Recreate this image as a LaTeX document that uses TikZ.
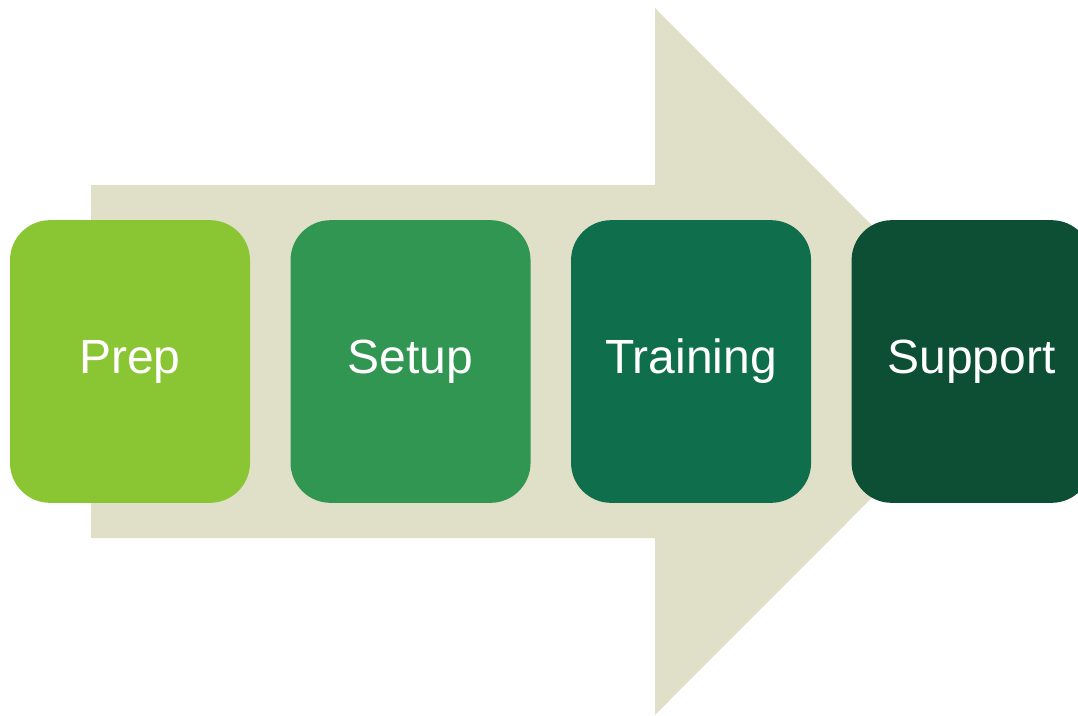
\documentclass[tikz,border=0pt]{standalone}
\usepackage{fontspec}
\setmainfont{Liberation Sans}
\usepackage{tikz}
\usetikzlibrary{positioning}
\definecolor{arrowbg}{HTML}{E0E0C9}
\definecolor{stepA}{HTML}{8AC634}
\definecolor{stepB}{HTML}{329653}
\definecolor{stepC}{HTML}{0F6E4B}
\definecolor{stepD}{HTML}{0D4F35}
\tikzset{phase/.style={rectangle, rounded corners=30pt, minimum width=180pt, minimum height=212pt, inner sep=0pt, text=white, font=\fontsize{36}{40}\selectfont}}

\begin{document}
\begin{tikzpicture}[x=0.75pt,y=-0.75pt,node distance=30pt]
\useasboundingbox (0,0) rectangle (1078,715);
\clip (0,0) rectangle (1078,715);

% big arrow behind
\fill[arrowbg] (91,185) -- (655,185) -- (655,8) -- (1008,361.5) -- (655,715) -- (655,538) -- (91,538) -- cycle;

\node[phase, fill=stepA] (prep) at (130,361.5) {Prep};
\node[phase, fill=stepB, right=of prep] (setup) {Setup};
\node[phase, fill=stepC, right=of setup] (training) {Training};
\node[phase, fill=stepD, right=of training] (support) {Support};

\end{tikzpicture}
\end{document}
